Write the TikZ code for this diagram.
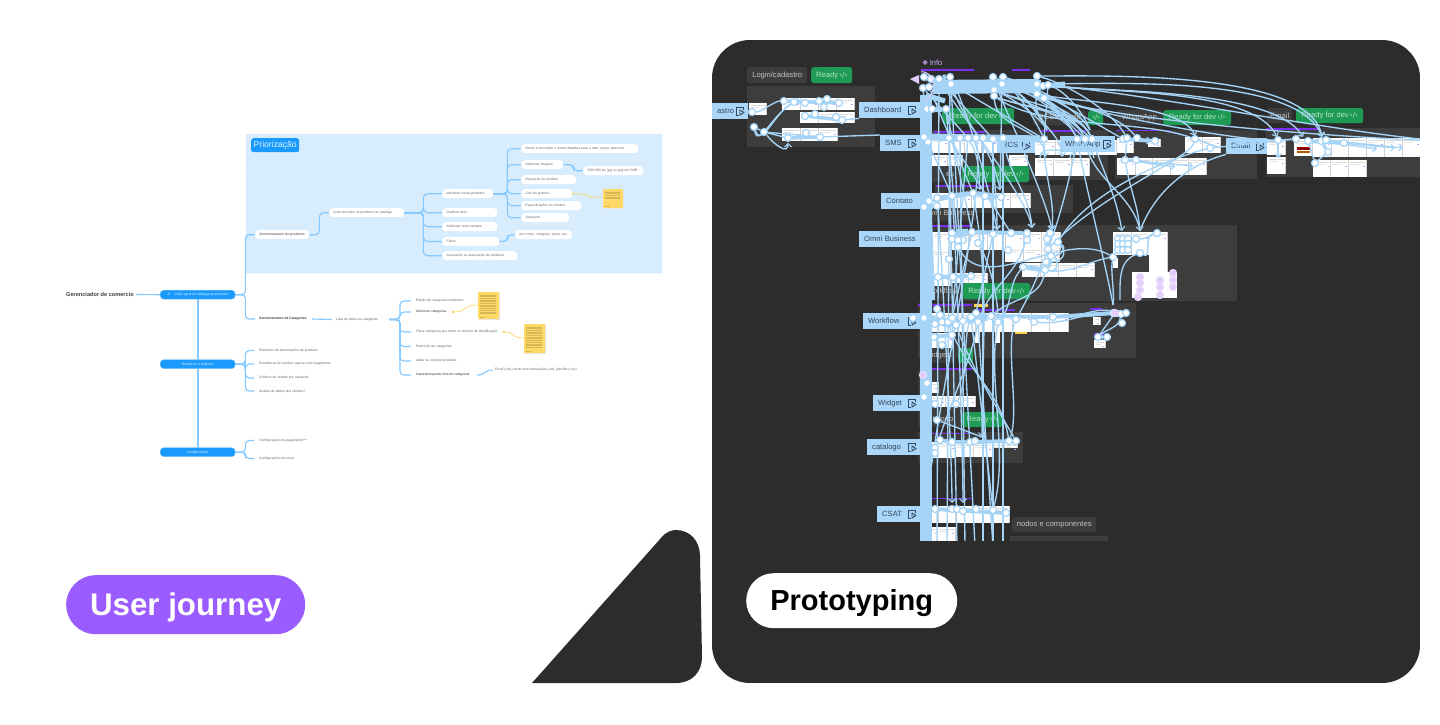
\documentclass[tikz,border=0pt]{standalone}
\usepackage{fontspec}
\setmainfont{Liberation Sans}
\newfontfamily\symfont{DejaVu Sans}
\usetikzlibrary{arrows.meta,calc}
\definecolor{panelbg}{HTML}{2C2C2C}
\definecolor{secbg}{HTML}{3D3D3D}
\definecolor{wirec}{HTML}{A5D4F7}
\definecolor{labelc}{HTML}{A9D6F9}
\definecolor{labeltx}{HTML}{33475A}
\definecolor{greenc}{HTML}{1E9A55}
\definecolor{greentx}{HTML}{B9E6CC}
\definecolor{violetc}{HTML}{7B2FF0}
\definecolor{lilac}{HTML}{E3CDFB}
\definecolor{mapl}{HTML}{84C9FF}
\definecolor{mapblue}{HTML}{1A9BFC}
\definecolor{prio}{HTML}{D7ECFD}
\definecolor{stickyc}{HTML}{FFD966}
\definecolor{yell}{HTML}{FFCF4D}
\definecolor{maptx}{HTML}{666666}
\definecolor{purplepill}{HTML}{9B5CFF}
\definecolor{dotc}{HTML}{E2E2E2}
\definecolor{taggray}{HTML}{C4C4C4}
\pgfdeclarelayer{front}
\pgfsetlayers{main,front}
\tikzset{
  x=1pt,y=-1pt,
  mapline/.style={draw=mapl,line width=1.15,rounded corners=4},
  pill/.style={fill=white,rounded corners=3.5,inner ysep=0,inner xsep=4.5,text=maptx,align=left,font=\fontsize{3.35}{4}\selectfont},
  plain/.style={inner sep=0,text=maptx,anchor=west,font=\fontsize{3.35}{4}\selectfont},
  strong/.style={inner sep=0,text=black!80,anchor=west,font=\fontsize{3.35}{4}\selectfont\bfseries},
  bluepill/.style={fill=mapblue,draw=mapl,line width=.4,rounded corners=3.5,text=white!88!mapblue,inner sep=0,font=\fontsize{3.35}{4}\selectfont},
  flowbox/.style={fill=labelc,text=labeltx,inner ysep=0,inner xsep=5,align=left,font=\fontsize{7.6}{9}\selectfont},
  tagbox/.style={fill=secbg,rounded corners=2.5,text=taggray,inner sep=0,font=\fontsize{7.6}{9}\selectfont},
  greenbox/.style={fill=greenc,rounded corners=2.5,text=greentx,inner sep=0,font=\fontsize{7.6}{9}\selectfont},
  wire/.style={draw=wirec,line width=1.35},
  wirea/.style={draw=wirec,line width=1.35,-{Straight Barb[length=3.5,width=7,line width=1.1]}},
  fat/.style={draw=wirec,line width=#1},
  hd/.style={circle,fill=white,draw=wirec,line width=1.2,minimum size=7,inner sep=0},
  hp/.style={circle,fill=lilac,draw=lilac!80!white,line width=1.2,minimum size=7,inner sep=0},
}
\newcommand{\mpill}[6]{%
  \pgfmathsetmacro\mw{#4-#2}\pgfmathsetmacro\mh{#5-#3}\pgfmathsetmacro\mt{#4-#2-9}%
  \node[pill,minimum width=\mw pt,minimum height=\mh pt,text width=\mt pt,anchor=north west] (#1) at (#2,#3) {\mbox{#6}};}
\newcommand{\mblue}[6]{%
  \pgfmathsetmacro\mw{#4-#2}\pgfmathsetmacro\mh{#5-#3}%
  \node[bluepill,minimum width=\mw pt,minimum height=\mh pt,anchor=north west] (#1) at (#2,#3) {#6};}
\newcommand{\sticky}[5]{%
  \fill[black!10] (#1+.6,#2+.8) rectangle (#3+.6,#4+.8);
  \fill[stickyc] (#1,#2) rectangle (#3,#4);
  \foreach \ln in {1,...,#5}{\fill[black!16!stickyc] (#1+2,#2+.8+\ln*1.7) rectangle (#3-3,#2+1.1+\ln*1.7);}
  \fill[black!16!stickyc] (#1+2,#4-2.5) rectangle (#1+7,#4-2.2);}
\newcommand{\playicon}[2]{%
  \begin{scope}[shift={(#1,#2)},labeltx,line width=.9,line join=round]
  \draw (3.5,-1) -- (3.5,-4) -- (-3.5,-4) -- (-3.5,4) -- (-1,4);
  \draw (0,-1) -- (4,1.5) -- (0,4) -- cycle;
  \end{scope}}
\newcommand{\flow}[7]{%
  \pgfmathsetmacro\mw{#4-#2}\pgfmathsetmacro\mh{#5-#3}\pgfmathsetmacro\mt{#4-#2-10}\pgfmathsetmacro\my{(#3+#5)/2}%
  \node[flowbox,minimum width=\mw pt,minimum height=\mh pt,text width=\mt pt,anchor=north west] (#1) at (#2,#3) {#6};
  \playicon{#7}{\my}}
\newcommand{\tagb}[7][]{%
  \pgfmathsetmacro\mw{#5-#3}\pgfmathsetmacro\mh{#6-#4}%
  \node[#2,minimum width=\mw pt,minimum height=\mh pt,anchor=north west,#1] at (#3,#4) {#7};}
\newcommand{\screen}[5]{%
  \fill[white] (#1,#2) rectangle (#3,#4);
  \pgfmathsetmacro\sw{(#3-#1)/#5}
  \foreach \k in {1,...,#5}{%
    \draw[black!18,line width=.5] (#1+\k*\sw,#2) -- (#1+\k*\sw,#4);
    \fill[black!14] (#1+\k*\sw-\sw+1.5,#2+1.5) rectangle (#1+\k*\sw-1.5,#2+2.2);
    \fill[black!10] (#1+\k*\sw-\sw+1.5,#2+4) rectangle (#1+\k*\sw-\sw*.4,#2+4.6);
    \fill[violetc!45] (#1+\k*\sw-3,#2+5.5) rectangle (#1+\k*\sw-1.5,#2+7);
  }}
\newcommand{\vbar}[3]{\fill[violetc] (#1,#3-.8) rectangle (#2,#3+.8);}
\newcommand{\cd}{{\symfont\fontsize{7}{8}\selectfont\,‹/›}}
\begin{document}
\begin{tikzpicture}
\useasboundingbox (0,0) rectangle (1440,724);
\fill[white] (0,0) rectangle (1440,724);
%% dots
\foreach \dx in {0,...,60}{\foreach \dy in {0,...,31}{\fill[dotc] (32+\dx*11,123+\dy*11) circle (.45);}}
%% Priorizacao
\draw[fill=prio,draw=mapl!45,line width=.4,rounded corners=1] (246,134) rectangle (662,273);
\node[fill=mapblue,rounded corners=2.5,minimum width=48pt,minimum height=14pt,inner sep=0,anchor=north west,text=white!85!mapblue,font=\fontsize{8.6}{10}\selectfont] (tagprio) at (251,138) {Priorização};
%% nodes
\node[inner sep=0,anchor=west,text=black!75,font=\fontsize{5.6}{7}\selectfont\bfseries] (root) at (66,294.5) {Gerenciador de comercio};
\coordinate (rootout) at (136,294.5);
\mblue{vg}{160}{290}{235}{299}{{\symfont\fontsize{4}{5}\selectfont ⚠}\hspace{4pt}Visão geral do catálogo de produtos}
\mblue{ra}{160}{359.5}{235}{368.5}{Relatórios e Análises}
\mblue{cf}{160}{447.5}{235}{456.5}{Configurações}
\mpill{gp}{255}{230}{309}{239}{\bfseries Gerenciamento de produtos}
\mpill{ll}{329}{208}{404}{217}{Lista de todos os produtos no catálogo}
\mpill{an}{442}{189}{493}{198}{adicionar novos produtos}
\mpill{du}{442}{208}{497}{217}{Duplicar Item}
\mpill{av}{442}{222}{497}{231}{Adicionar nova variante}
\mpill{fi}{442}{237}{499}{245.5}{Filtros}
\mpill{ap}{442}{251}{517}{260}{Aprovação ou arquivação de produtos}
\mpill{nd}{521}{144}{638}{153}{Nome e descrição e outros detalhes para o item, preço, desconto}
\mpill{ai}{521}{160}{563}{169}{Adicionar imagem}
\mpill{de}{521}{175}{576}{184}{Descrição do produto}
\mpill{li}{521}{189}{572}{198}{Link do produto}
\mpill{es}{521}{201}{581}{210}{Especificações do produto}
\mpill{va}{521}{213}{569}{222}{Variações}
\mpill{px}{583}{166}{643}{175}{500×500 px, jpg ou png em 5MB}
\mpill{pn}{515}{230}{572}{239}{por nome, categoria, preço, etc.}
\coordinate (st1) at (603,197);
\sticky{603}{189}{623}{208}{5}
\node[strong] (gc) at (259,319) {Gerenciamento de Categorias};
\node[plain] (lc) at (336,319.5) {Lista de todos as categorias};
\node[plain] (c1) at (416,301) {Edição de categorias existentes};
\node[plain,text=black!80] (c2) at (416,312) {Adicionar categorias};
\node[plain] (c3) at (416,332) {Filtrar categorias por nome ou número de identificação};
\node[plain] (c4) at (416,346.5) {Remoção de categorias};
\node[plain] (c5) at (416,361) {editar ou remover produtos};
\node[plain,text=black!80] (c6) at (416,375) {Importar/exportar lista de categorias};
\node[plain] (c7) at (495,370) {Excel (.xls) | texto sem formatação (.txt), planilha (.csv)};
\sticky{478}{292}{499}{319}{12}
\sticky{524}{324}{545}{353}{13}
\coordinate (st2) at (478,305); \coordinate (st3) at (524,338);
\coordinate (gcout) at (312,319); \coordinate (lcin) at (332,319.5); \coordinate (lcout) at (389,319.5); \coordinate (fork) at (400,319.5);
\coordinate (c6out) at (477,375); \coordinate (c7in) at (493,370); \coordinate (c2y) at (453,312); \coordinate (c3y) at (504,332);
\node[plain] (r1) at (259,350.5) {Relatórios de desempenho de produtos};
\node[plain] (r2) at (259,364) {Estatísticas de vendas* apenas com pagamento};
\node[plain] (r3) at (259,378) {Gráficos de vendas por categoria};
\node[plain] (r4) at (259,391) {Análise de dados dos clientes?};
\node[plain] (k1) at (259,440.5) {Configurações de pagamento***};
\node[plain] (k2) at (259,458.5) {Configurações de envio};
%% map lines
\draw[mapline] (rootout) -- (vg.west);
\draw[mapline,line width=1.6] (vg.south) -- (ra.north);
\draw[mapline,line width=1.6] (ra.south) -- (cf.north);
\draw[mapline] (vg.east) -- ++(10,0) |- (gp.west);
\draw[mapline] (vg.east) -- ++(10,0) |- ([xshift=-4pt]gc.west);
\draw[mapline] (gp.east) -- ++(10,0) |- (ll.west);
\foreach \tg in {an,du,av,fi,ap}{\draw[mapline] (ll.east) -- ++(19,0) |- (\tg.west);}
\foreach \tg in {nd,ai,de,li,es,va}{\draw[mapline] (an.east) -- ++(14,0) |- (\tg.west);}
\draw[mapline] (ai.east) -- ++(10,0) |- (px.west);
\draw[mapline] (fi.east) -- ++(8,0) |- (pn.west);
\draw[mapline] (gcout) -- (lcin);
\foreach \tg in {c1,c2,c3,c4,c5,c6}{\draw[mapline] (lcout) -- (fork) |- ([xshift=-5pt]\tg.west);}
\draw[mapline] (c6out) .. controls (486,375) and (484,370) .. (c7in);
\foreach \tg in {r1,r2,r3,r4}{\draw[mapline] (ra.east) -- ++(10,0) |- ([xshift=-5pt]\tg.west);}
\draw[mapline] (cf.east) -- ++(10,0) |- ([xshift=-5pt]k1.west);
\draw[mapline] (cf.east) -- ++(10,0) |- ([xshift=-5pt]k2.west);
\draw[draw=yell,line width=.6] (li.east) .. controls (592,193) and (584,198.5) .. (st1);
\fill[yell] (li.east) ++(-.8,-.8) rectangle ++(1.6,1.6);
\draw[draw=yell,line width=.6] (c2y) .. controls (470,312) and (460,305) .. (st2);
\fill[yell] (c2y) ++(-1,-1) rectangle ++(2,2);
\draw[draw=yell,line width=.6] (c3y) .. controls (516,332) and (510,338) .. (st3);
\fill[yell] (c3y) ++(-1,-1) rectangle ++(2,2);
%% triangle
\fill[panelbg] (532,683) -- (661,538) .. controls (666,532) and (671,530) .. (676,530)
  .. controls (690,530) and (700,541) .. (700,556) -- (702,657)
  .. controls (702,672) and (692,683) .. (676,683) -- cycle;
%% pills
\node[fill=purplepill,rounded corners=29.5,minimum width=239pt,minimum height=59pt,inner sep=0,anchor=north west,text=white,font=\fontsize{31.3}{38}\selectfont\bfseries] (uj) at (66,575) {\raisebox{-11pt}[0pt][0pt]{User journey}};
%% dark panel
\begin{scope}
\clip[rounded corners=38] (712,40) rectangle (1420,683);
\fill[panelbg] (712,40) rectangle (1420,683);
\begin{scope}
\clip (712,40) rectangle (1420,540);
%% sections
\fill[secbg] (747,86) rectangle (875,147);
\fill[secbg] (932,130) rectangle (1108,180);
\fill[secbg] (1115,130) rectangle (1257,179);
\fill[secbg] (1266,128) rectangle (1420,177);
\fill[secbg] (935,185) rectangle (1073,213);
\fill[secbg] (932,225) rectangle (1237,301);
\fill[secbg] (918,303) rectangle (1136,358);
\fill[secbg] (918,370) rectangle (962,427);
\fill[secbg] (918,432) rectangle (1023,463);
\fill[secbg] (1010,536) rectangle (1108,546);
%% tags
\tagb{tagbox}{747}{67}{807}{83}{Login/cadastro}
\tagb{greenbox}{811}{67}{852}{83}{Ready\cd}
\tagb{greenbox}{942}{108}{1014}{124}{Ready for dev\cd}
\tagb{tagbox}{1033}{110}{1086}{125}{RCS Google}
\tagb{greenbox}{1088}{110}{1103}{125}{\cd}
\tagb{tagbox}{1116}{110}{1162}{125}{WhatsApp}
\tagb{greenbox}{1163}{110}{1231}{125}{Ready for dev\cd}
\tagb{tagbox}{1267}{108}{1292}{123}{Email}
\tagb{greenbox}{1296}{108}{1363}{123}{Ready for dev\cd}
\tagb{tagbox}{925}{166}{959}{182}{\hspace{16pt}es}
\tagb{greenbox}{962}{166}{1029}{182}{Ready for dev\cd}
\tagb{tagbox}{920}{205}{977}{221}{Omni Business}
\tagb{tagbox}{922}{283}{961}{299}{Workflow}
\tagb{greenbox}{963}{283}{1030}{299}{Ready for dev\cd}
\tagb{tagbox}{921}{348}{955}{363}{Widgets}
\tagb{greenbox}{958}{348}{973}{363}{\cd}
\tagb{tagbox}{918}{412}{958}{427}{Catalogo}
\tagb{greenbox}{962}{412}{1002}{427}{Ready\cd}
\tagb{tagbox}{1012}{517}{1096}{532}{nodos e componentes}
\node[inner sep=0,anchor=west,text=lilac!80!violetc,font=\fontsize{7.6}{9}\selectfont] (infot) at (922,63) {{\symfont\fontsize{7}{8}\selectfont ❖}\,Info};
%% violet bars
\vbar{921}{974}{70}\vbar{1012}{1030}{70}
\vbar{1040}{1086}{131}\vbar{934}{985}{132}\vbar{1116}{1170}{130.5}\vbar{1266}{1320}{129}
\vbar{936}{990}{186}\vbar{921}{972}{226}
\vbar{918}{972}{305}\vbar{976}{1015}{310}\vbar{975}{1013}{329.5}\vbar{1090}{1102}{309}\vbar{1094}{1104}{334}
\vbar{920}{972}{369}\vbar{920}{972}{433.5}\vbar{920}{972}{498.5}
\fill[yell] (974,304) rectangle (988,306.5);\fill[yell] (1015,332) rectangle (1027,334);
%% screens
\screen{749}{103}{766}{115}{1}\screen{782}{98}{854}{110}{4}\screen{800}{112}{854}{123}{3}\screen{782}{128}{837}{141}{3}
\screen{932}{137}{997}{153}{4}\screen{932}{155}{962}{166}{2}\screen{1009}{155}{1027}{166}{1}
\screen{1035}{140}{1116}{155}{4}\screen{1035}{158}{1089}{176}{3}
\screen{932}{193}{1030}{208}{5}
\screen{932}{232}{1060}{250}{7}\screen{932}{250}{950}{286}{1}\screen{1005}{248}{1059}{262}{3}\screen{1022}{263}{1094}{277}{4}\screen{932}{273}{987}{283}{3}
\screen{1117}{138}{1133}{153}{1}\screen{1148}{139}{1160}{147}{1}\screen{1185}{137}{1220}{153}{2}\screen{1117}{158}{1206}{175}{5}
\screen{1267}{140}{1285}{155}{1}\screen{1267}{157}{1285}{174}{1}\screen{1294}{139}{1312}{156}{1}
\screen{1313}{138}{1420}{157}{6}\screen{1313}{160}{1366}{177}{3}
\fill[red!55!black] (1297,147) rectangle (1310,150);\fill[orange!70!black] (1297,151) rectangle (1310,153);
\screen{1113}{232}{1149}{255}{2}\screen{1149}{232}{1167}{272}{1}\fill[white] (1113,258) rectangle (1118,268);
\fill[white] (1132,272) rectangle (1177,298);
\screen{920}{313}{1068}{332}{8}\screen{920}{333}{953}{348}{2}\fill[white] (975,332) rectangle (980,343);\fill[white] (995,332) rectangle (1000,343);
\screen{1093}{317}{1100}{325}{1}\screen{1094}{340}{1105}{348}{1}
\screen{922}{382}{938}{393}{1}\screen{930}{396}{975}{407}{3}
\screen{920}{442}{955}{458}{2}\screen{955}{443}{992}{457}{2}\screen{992}{443}{1017}{448}{2}
\screen{920}{506}{1009}{523}{5}\screen{920}{527}{955}{546}{2}
%% flow labels
\flow{fa}{700}{103}{748}{119}{\hspace{12pt}astro}{740}
\flow{fd}{859}{102}{925}{118}{Dashboard}{912}
\flow{fs}{880}{135}{925}{151}{SMS}{912}
\flow{fc}{881}{193}{925}{209}{Contato}{926}
\flow{fo}{859}{231}{925}{247}{Omni Business}{926}
\flow{fw}{863}{313}{925}{329}{Workflow}{912}
\flow{fg}{873}{395}{925}{411}{Widget}{912}
\flow{fk}{867}{439}{925}{455}{catalogo}{912}
\flow{fx}{877}{506}{925}{522}{CSAT}{912}
\flow{fr}{997}{137}{1035}{153}{RCS}{1026}
\flow{fh}{1060}{136}{1115}{152}{WhatsApp}{1107}
\flow{fe}{1226}{138}{1267}{154}{Email}{1260}
%% handles (front layer, named, reached by the connectors below)
\begin{pgfonlayer}{front}
\foreach[count=\i] \hx/\hy in {924/77,931/79,923/88,929/87,939/79,950/77,951/84,993/77,1003/77,1002/84,994/90,994/96,1037/76,1037/84,1043/86,1048/85,1037/94,1044/98}{\node[hd] (t\i) at (\hx,\hy) {};}
\foreach[count=\i] \hx/\hy in {927/109,932/109,946/109,924/137,928/142,949/138,960/138,968/138,976/138,983/138,993/139,1003/138,1044/139}{\node[hd] (s\i) at (\hx,\hy) {};}
\foreach[count=\i] \hx/\hy in {924/207,929/201,937/198,937/206,952/196,973/193,985/196,1001/197}{\node[hd] (c\i x) at (\hx,\hy) {};}
\foreach[count=\i] \hx/\hy in {952/233,952/239,958/247,963/240,958/240,972/232,978/243,993/234,1011/233,1027/233,1027/240,1008/250,1047/239,1050/233,1058/242,1048/249,1051/256,1046/262,1045/270,1023/267,949/259,938/277,953/277,971/276}{\node[hd] (o\i) at (\hx,\hy) {};}
\foreach[count=\i] \hx/\hy in {913/318,924/318,935/324,937/309,940/315,942/322,948/322,952/318,956/325,963/321,971/317,976/313,978/322,991/316,998/322,1016/319,1034/322,1053/317,1113/313,1121/314,1126/313,1122/323,1098/337,1107/337,934/337,942/345,952/335}{\node[hd] (w\i) at (\hx,\hy) {};}
\foreach[count=\i] \hx/\hy in {927/383,924/397,935/404,956/404,937/420,940/440,952/442,935/448,935/453,970/442,975/441,1009/441,1016/441,935/509,952/509,957/509,963/511,976/509,993/510,1006/513}{\node[hd] (g\i) at (\hx,\hy) {};}
\foreach[count=\i] \hx/\hy in {752/112,754/127,764/132,784/101,794/102,805/103,819/101,827/99,824/107,839/103,805/116,815/114,836/117,842/120,788/138,806/133,820/137}{\node[hd] (l\i) at (\hx,\hy) {};}
\foreach[count=\i] \hx/\hy in {1077/139,1085/139,1092/139,1123/139,1127/138,1137/138,1155/141,1125/160,1136/160,1195/139,1210/148,1278/140,1296/139,1308/141,1321/141,1326/140,1328/152,1344/143,1315/163,1118/239,1123/239,1128/239,1118/244,1123/244,1128/244,1118/250,1123/250,1128/250,1136/239,1140/253,1157/233,1113/257}{\node[hd] (e\i) at (\hx,\hy) {};}
\foreach[count=\i] \hx/\hy in {1140/277,1140/283,1140/290,1160/280,1160/287,1173/273,1173/280,1173/287,1160/295,1138/297,1115/313}{\node[hp] (p\i) at (\hx,\hy) {};}
\node[hp] (pinfo) at (923,375) {};
\fill[lilac] (910,79) -- (919,75) -- (919,84) -- cycle;
\draw[lilac,line width=1] (921,72) .. controls (935,70) and (938,95) .. (925,100);
\foreach[count=\i] \hx/\hy in {925/102,1045/157,1062/157,980/190,997/230,1032/228,1052/230,1195/136,1277/137,1303/137,1322/137,1122/231,1140/231,928/437,982/437,928/503,963/503,952/503,1000/190,1047/130,1090/130,970/137,946/505}{\coordinate (a\i) at (\hx,\hy);}
\end{pgfonlayer}
\foreach[count=\i] \hx in {926,937,947,957,965,983,993,1003,975}{\coordinate (b\i) at (\hx,546);}
\coordinate (farr) at (1440,141);
%% bundles
\draw[fat=12] (926,95) -- (b1);
\draw[fat=6] (a1) -- (932,300);
\draw[fat=5] (926,95) -- (945,101);
\draw[fat=14] (t4) -- (t15);
\draw[fat=7] (t1) -- (t2) -- (t5) -- (t6);
\draw[fat=8] (t8) -- (t11);
\draw[fat=7] (t13) -- (t17);
\draw[fat=5] (t15) -- (1065,84);
\draw[fat=5] (fd.east) -- (s3);
\draw[fat=7] (s4) -- (s13);
\draw[fat=5] (c2x) -- (c5x) -- (c6x) -- (c8x);
\draw[fat=5] (c1x) -- (c4x);
\draw[fat=7] (o1) -- (o6);
\draw[fat=4] (o6) -- (o10);
\draw[fat=7] (o13) -- (o16);
\draw[fat=7] (o17) -- (o19);
\draw[fat=5] (o20) -- (o19);
\draw[fat=4] (o22) -- (o24);
\draw[fat=8] (w2) -- (w9);
\draw[fat=8] (w10) -- (w14);
\draw[fat=4] (w14) -- (w18) -- (w19);
\draw[fat=7] (w19) -- (w21);
\draw[fat=5] (w23) -- (w24);
\draw[fat=4] (w25) -- (w27);
\draw[fat=4] (g6) -- (g7) -- (g10) -- (g13);
\draw[fat=4] (g14) -- (g20);
\draw[fat=3.5] (l4) -- (l10);
\draw[fat=3.5] (l11) -- (l14);
\draw[fat=3.5] (l15) -- (l17);
\draw[fat=4] (e1) -- (e3);
\draw[fat=4] (e4) -- (e7);
\draw[fat=3] (e8) -- (e9);
\draw[fat=6] (e20) -- (e28);
\draw[fat=5] (e20) -- (e26);
\draw[fat=5] (e22) -- (e28);
\draw[fat=4] (e14) -- (e18);
\draw[fat=3] (e15) -- (e17);
%% wires: verticals
\foreach \s/\b in {t5/b2,t6/b3,s6/b4,s7/b5,t7/b9,s10/b6,s11/b7,s12/b8}{\draw[wire] (\s) -- (\b);}
%% wires: long fan to the right
\draw[wirea] (t13) to[out=0,in=100,looseness=.6] (a11);
\draw[wirea] (t14) to[out=0,in=110,looseness=.6] (a11);
\draw[wirea] (t15) to[out=-5,in=120,looseness=.55] (a10);
\draw[wirea] (t16) to[out=-8,in=115,looseness=.6] (a9);
\draw[wirea] (t17) to[out=-12,in=110,looseness=.55] (a8);
\draw[wire] (t18) to[out=-15,in=178,looseness=.6] (farr);
\draw[wire] (t14) to[out=-5,in=175,looseness=.7] (farr);
\draw[wire] (t17) to[out=-20,in=180,looseness=.5] (e12);
\draw[wire] (t9) to[out=-20,in=150,looseness=.7] (e4);
\draw[wire] (t10) to[out=-20,in=130,looseness=.7] (e6);
\draw[wire] (t13) to[out=-15,in=120,looseness=.7] (e5);
\draw[wire] (t12) to[out=-35,in=160,looseness=.7] (e10);
\draw[wire] (t16) to[out=-20,in=110,looseness=.7] (a21);
\draw[wire] (t10) to[out=-20,in=110,looseness=.7] (a20);
\draw[wire] (t11) to[out=-25,in=120,looseness=.7] (a20);
\draw[wire] (t9) to[out=-15,in=120,looseness=.7] (a21);
\foreach \s/\e in {t8/e1,t9/e2,t10/e3,t11/e1,t12/e2,t9/e1,t8/s13,t10/a20,t11/e3,t12/e3}{\draw[wire] (\s) to[out=-22,in=115,looseness=.7] (\e);}
\draw[wire] (t18) -- (e3);
\draw[wire] (t18) -- (e2);
\draw[wire] (t16) -- (s13);
\draw[wire] (t10) -- (a19);
%% wires: down into sections
\draw[wirea] (t7) to[out=-70,in=100] (a19);
\draw[wirea] (t12) to[out=-85,in=90] (a2);
\draw[wirea] (t17) to[out=-100,in=90] (a3);
\draw[wirea] (s8) to[out=-60,in=95] (a4);
\draw[wirea] (s11) to[out=-90,in=90] (a5);
\draw[wirea] (s12) to[out=-80,in=95] (a6);
\draw[wirea] (s13) to[out=-90,in=85] (a7);
\draw[wirea] (t8) to[out=-70,in=100,looseness=.5] (a7);
\draw[wirea] (t6) to[out=-60,in=100,looseness=.5] (a5);
\draw[wirea] (t5) to[out=-60,in=100,looseness=.5] (a6);
\draw[wirea] (e3) to[out=-70,in=100,looseness=1] (a12);
\draw[wirea] (e8) to[out=-80,in=95,looseness=1] (a13);
\draw[wirea] (c6x) to[out=-80,in=90] (a15);
\draw[wirea] (s9) to[out=-80,in=90,looseness=.4] (a16);
\draw[wirea] (t3) to[out=-85,in=90,looseness=.4] (a14);
\draw[wirea] (c5x) to[out=-85,in=90,looseness=.4] (a17);
\draw[wirea] (c3x) to[out=-85,in=90,looseness=.4] (a18);
%% wires: diagonals in the middle
\draw[wire] (t5) -- (s11);
\draw[wire] (t7) -- (s13);
\draw[wire] (t3) -- (s8);
\draw[wire] (t4) -- (c6x);
\draw[wire] (s3) -- (o6);
\draw[wire] (s3) -- (o3);
\draw[wire] (s6) -- (o9);
\draw[wire] (s8) -- (w8);
\draw[wire] (s5) -- (c5x);
\draw[wire] (o8) -- (w12);
\draw[wire] (o10) to[out=-100,in=70] (w13);
\draw[wire] (o20) to[out=-130,in=50] (w15);
\draw[wire] (o19) to[out=-100,in=40] (w14);
\draw[wire] (e1) to[out=-100,in=60,looseness=.8] (w16);
\draw[wire] (o7) to[out=-60,in=90,looseness=.7] (w15);
\draw[wire] (o3) to[out=-60,in=150,looseness=.9] (e32);
\draw[wire] (o16) to[out=-40,in=-10,looseness=1.4] (o19);
\draw[wire] (o15) to[out=-50,in=0,looseness=1.5] (o18);
\draw[wire] (o15) to[out=-35,in=5,looseness=1.4] (o17);
\draw[wire] (e10) ..controls (1190,158) and (1100,195) .. (o16);
\draw[wire] (e11) ..controls (1170,158) and (1090,190) .. (o15);
\draw[wire] (fe.south west) to[out=195,in=70,looseness=.9] (a13);
\draw[wire] (o19) to[out=-10,in=190,looseness=.8] (e32);
\draw[wire] (e32) to[out=-100,in=80,looseness=.6] (1113,305);
\draw[wire] (e1) to[out=-80,in=100,looseness=.6] (1113,305);
\draw[wire] (w17) to[out=-5,in=180] (w19);
\draw[wire] (w18) to[out=0,in=185] (w21);
\draw[wire] (w18) to[out=-5,in=160] (w20);
\draw[wire] (w20) to[out=-100,in=40] (w23);
\draw[wire] (p11) -- (w23);
\draw[wire] (e2) to[out=-80,in=100,looseness=.9] (a13);
\draw[wire] (w7) to[out=-70,in=100] (g12);
\draw[wire] (w9) to[out=-70,in=120,looseness=.8] (g13);
\draw[wire] (w11) to[out=-110,in=60,looseness=.6] (g4);
\draw[wire] (w13) to[out=-100,in=75,looseness=.7] (g9);
\draw[wire] (w15) to[out=-100,in=75,looseness=.8] (g19);
\draw[wire] (g5) -- (a15);
\draw[wire] (w13) -- (b7);
\draw[wire] (o6) -- (w8);
\draw[wire] (w11) -- (g19);
\draw[wire] (w16) to[out=-110,in=70,looseness=.6] (g12);
%% wires: left block
\draw[wirea] (l2) to[out=-70,in=170,looseness=1] (l6);
\draw[wire] (l2) to[out=-80,in=170] (l6);
\draw[wirea] (l3) to[out=-50,in=-90,looseness=1.4] ([yshift=-9pt]l15.north);
\draw[wire] (fa.east) -- (l1);
\draw[wire] (l1) to[out=0,in=180,looseness=.5] (l4);
\draw[wire] (l3) -- (l17);
\draw[wire] (l14) -- (fd.south west);
\draw[wire] (l17) -- (fs.north west);
\draw[wire] (l3) -- (l15);
\draw[wire] (l2) -- (l3);
\draw[fat=3] (l2) -- ++(2,3);
%% wires: whatsapp, email
\draw[wirea] (e8) -- (1193,166);
\draw[wirea] (e8) -- (1175,167);
\draw[wirea] (e9) -- (1160,165);
\draw[wirea] (e4) -- (e7);
\draw[wire] (e10) -- (1218,147);
\draw[wire] (e13) -- (e12);
\draw[wire] (e13) -- (e11);
\draw[wirea] (e15) -- (1395,148);
\draw[wirea] (e15) -- (1377,149);
\draw[wirea] (e16) -- (1403,148);
\draw[wire] (e14) -- (e19);
\draw[wire] (e19) -- (e17);
\draw[wirea] (e12) -- (1278,158);
\draw[wire] (e5) -- (e8);
\draw[wire] (e1) to[out=-60,in=95] (1094,158);
\draw[wire] (e3) to[out=-60,in=95] (1070,158);
\draw[wire] (e2) to[out=-100,in=90] (1040,158);
\draw[wire] (e30) to[out=-30,in=190] (e31);
\draw[wire] (e30) to[out=-160,in=90] (1120,300);
\draw[wire] (e29) to[out=0,in=-160] (e31);
\end{scope}
\end{scope}
\node[fill=white,rounded corners=27.5,minimum width=211pt,minimum height=55pt,inner sep=0,text=black,font=\fontsize{29}{36}\selectfont\bfseries,anchor=north west] (pro) at (746,573) {\raisebox{-10pt}[0pt][0pt]{Prototyping}};
\end{tikzpicture}
\end{document}
